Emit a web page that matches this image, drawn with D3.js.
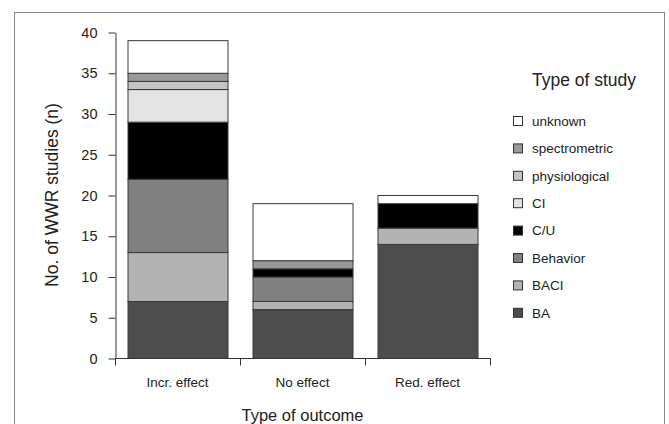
<!DOCTYPE html>
<html><head><meta charset="utf-8">
<script src="https://cdn.jsdelivr.net/npm/d3@7"></script>
<style>
html,body{margin:0;padding:0;background:#fff;}
text{font-family:"Liberation Sans",Arial,sans-serif;fill:#222;}
</style></head>
<body>
<svg id="c" width="669" height="424"></svg>
<script>
const categories = ["Incr. effect", "No effect", "Red. effect"];
const studyTypes = ["BA", "BACI", "Behavior", "C/U", "CI", "physiological", "spectrometric", "unknown"];
const BA            = [7, 6, 14];
const BACI          = [6, 1, 2];
const Behavior      = [9, 3, 0];
const CU            = [7, 1, 3];
const CI            = [4, 0, 0];
const physiological = [1, 0, 0];
const spectrometric = [1, 1, 0];
const unknown       = [4, 7, 1];
const yTicks = [0, 5, 10, 15, 20, 25, 30, 35, 40];
const colors = ["#4d4d4d", "#b3b3b3", "#808080", "#000000", "#e3e3e3", "#c4c4c4", "#999999", "#ffffff"];

const seriesValues = [BA, BACI, Behavior, CU, CI, physiological, spectrometric, unknown];
const rows = categories.map((c, i) => {
  const r = {cat: c};
  studyTypes.forEach((s, j) => r[s] = seriesValues[j][i]);
  return r;
});

const svg = d3.select("#c");
// outer frame
svg.append("rect").attr("x", 14.5).attr("y", 12.5).attr("width", 650).attr("height", 430)
  .attr("fill", "none").attr("stroke", "#8a8a8a").attr("stroke-width", 1);

const x = d3.scaleBand().domain(categories).range([115, 490]).paddingInner(0.2).paddingOuter(0.1);
const y = d3.scaleLinear().domain([0, 40]).range([358, 32]);
const color = d3.scaleOrdinal().domain(studyTypes).range(colors);

const stack = d3.stack().keys(studyTypes)(rows);

const g = svg.append("g");
stack.forEach(layer => {
  g.selectAll(null).data(layer.filter(d => d[1] - d[0] > 0)).enter().append("rect")
    .attr("x", d => x(d.data.cat) + 0.5)
    .attr("y", d => y(d[1]) + 0.5)
    .attr("width", x.bandwidth())
    .attr("height", d => y(d[0]) - y(d[1]))
    .attr("fill", color(layer.key))
    .attr("stroke", "#3a3a3a").attr("stroke-width", 1);
});

// y axis
const yAxis = d3.axisLeft(y).tickValues(yTicks).tickSize(7).tickPadding(11).tickSizeOuter(0);
const ya = svg.append("g").attr("transform", "translate(115.5,0.5)").call(yAxis);
ya.attr("font-size", null).attr("font-family", null);
ya.selectAll("path,line").attr("stroke", "#333");
ya.selectAll("text").style("font-size", "14.5px").style("font-family", '"Liberation Sans",Arial,sans-serif').style("fill", "#222");

// x axis: line with ticks at band boundaries
const xa = svg.append("g");
const bounds = [x.range()[0]].concat(categories.map(c => x(c) + x.bandwidth() + x.step() * x.paddingInner() / 2));
bounds[bounds.length - 1] = x.range()[1];
xa.append("line").attr("x1", x.range()[0] + 0.5).attr("x2", x.range()[1] + 0.5)
  .attr("y1", y(0) + 0.5).attr("y2", y(0) + 0.5).attr("stroke", "#333");
xa.selectAll("line.t").data(bounds).enter().append("line").attr("class", "t")
  .attr("x1", d => d + 0.5).attr("x2", d => d + 0.5)
  .attr("y1", y(0) + 0.5).attr("y2", y(0) + 7.5).attr("stroke", "#333");
xa.selectAll("text").data(categories).enter().append("text")
  .attr("x", d => x(d) + x.bandwidth() / 2).attr("y", 387)
  .attr("text-anchor", "middle").style("font-size", "13.5px").text(d => d);

// axis titles
svg.append("text").attr("x", 302.5).attr("y", 421).attr("text-anchor", "middle")
  .style("font-size", "16.5px").text("Type of outcome");
svg.append("text").attr("transform", "translate(58,195) rotate(-90)").attr("text-anchor", "middle")
  .style("font-size", "17.5px").text("No. of WWR studies (n)");

// legend
svg.append("text").attr("x", 532).attr("y", 86).style("font-size", "17.5px").text("Type of study");
const legendOrder = studyTypes.slice().reverse();
const lg = svg.selectAll("g.leg").data(legendOrder).enter().append("g").attr("class", "leg")
  .attr("transform", (d, i) => `translate(513,${121 + i * 27.4})`);
lg.append("rect").attr("x", 0.5).attr("y", -4.5).attr("width", 9).attr("height", 9)
  .attr("fill", d => color(d)).attr("stroke", "#333");
lg.append("text").attr("x", 19).attr("y", 0).attr("dy", "0.35em").style("font-size", "13.5px").text(d => d);
</script>
</body></html>
